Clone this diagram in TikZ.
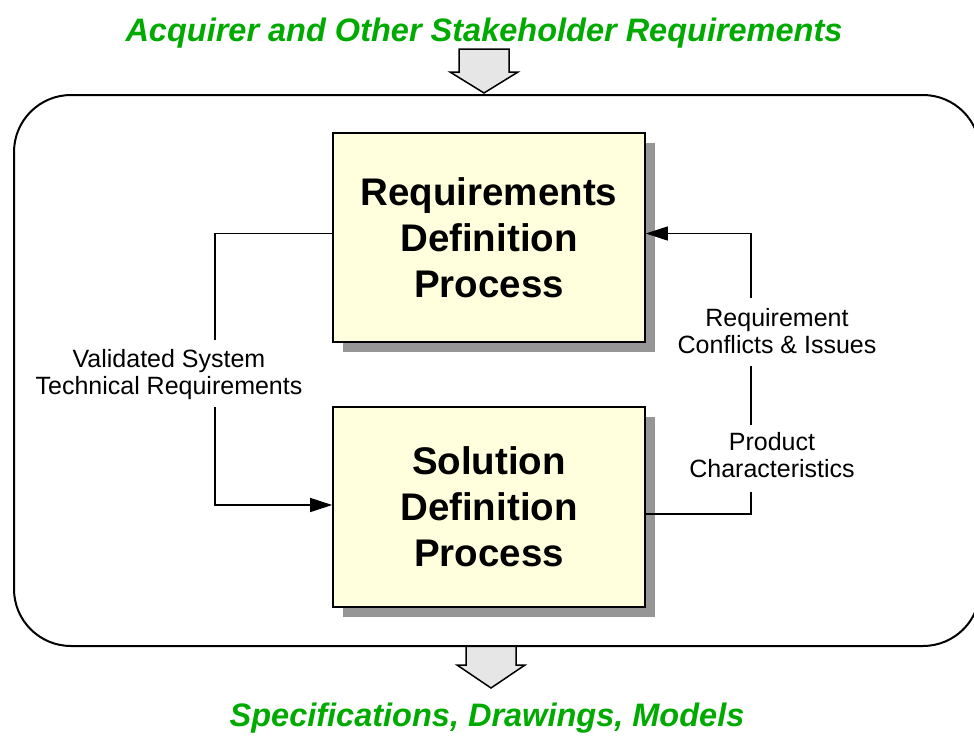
\documentclass[tikz,border=0pt]{standalone}
\usepackage{fontspec}
\setmainfont{Liberation Sans}
\usetikzlibrary{arrows.meta}
\usetikzlibrary{shadows}
\definecolor{headgreen}{RGB}{0,170,0}
\definecolor{procfill}{RGB}{255,255,221}
\definecolor{shadegray}{RGB}{150,150,150}
\definecolor{bigarrowfill}{RGB}{230,230,230}

\begin{document}
\begin{tikzpicture}[x=1pt, y=-1pt, >={Triangle[length=22pt,width=14pt]},
  proc/.style={draw, line width=1.6pt, fill=procfill, minimum width=312pt, align=center,
    font=\fontsize{38.5}{46}\selectfont\bfseries,
    drop shadow={shadow xshift=10pt, shadow yshift=-10pt, fill=shadegray, opacity=1}},
  lbl/.style={align=center, font=\fontsize{25}{27}\selectfont},
  heading/.style={anchor=base, text=headgreen, font=\fontsize{32.5}{38}\selectfont\bfseries\itshape},
  bigarrow/.style={draw, line width=1.5pt, fill=bigarrowfill, line join=miter},
  conn/.style={line width=1.2pt}]
\useasboundingbox (0,0) rectangle (974,736);
\node[heading] (acq) at (484,41) {Acquirer and Other Stakeholder Requirements};
\node[heading] (spec) at (487,726) {Specifications, Drawings, Models};
\draw[bigarrow] (459,49) -- (509,49) -- (509,72) -- (518,72) -- (484,93) -- (450,72) -- (459,72) -- cycle;
\draw[bigarrow] (466,646) -- (516,646) -- (516,665) -- (525,665) -- (491,688) -- (457,665) -- (466,665) -- cycle;
\draw[line width=2pt, rounded corners=57pt] (14,95) rectangle (980,646);
\node[proc, minimum height=209pt] (req) at (489,237.5) {Requirements\\Definition\\Process};
\node[proc, minimum height=200pt] (sol) at (489,507) {Solution\\Definition\\Process};
\node[lbl] (vst) at (169,375) {Validated System\\Technical Requirements};
\node[lbl] (rci) at (777,331) {Requirement\\Conflicts \& Issues};
\node[lbl] (pch) at (772,455) {Product\\Characteristics};
\coordinate (vtop) at (215,340);
\coordinate (vbot) at (215,407);
\coordinate (pbot) at (751,492);
\coordinate (ptop) at (751,425);
\coordinate (rbot) at (751,366);
\coordinate (rtop) at (751,298);
\draw[conn] ([yshift=4pt]req.west) -| (vtop);
\draw[conn,->] (vbot) |- ([yshift=2pt]sol.west);
\draw[conn] ([yshift=-7pt]sol.east) -| (pbot);
\draw[conn] (ptop) -- (rbot);
\draw[conn,->] (rtop) |- ([yshift=4pt]req.east);
\end{tikzpicture}
\end{document}
